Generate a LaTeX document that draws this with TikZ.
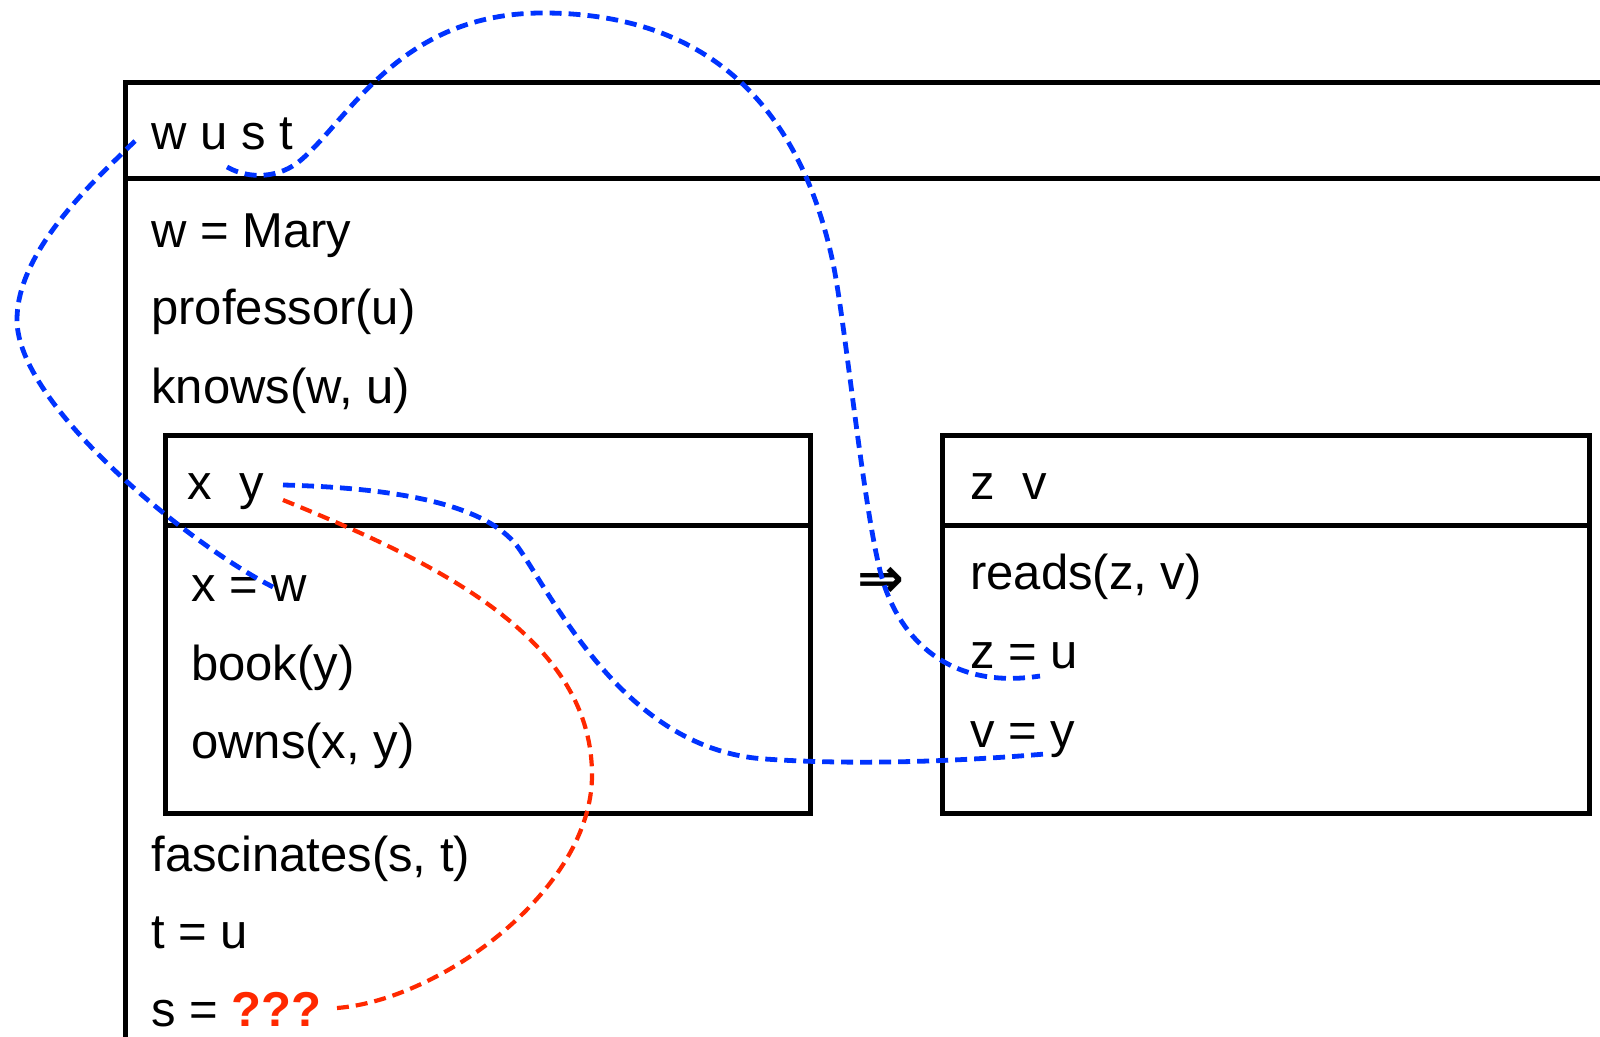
\documentclass[tikz,border=0pt]{standalone}
\usepackage{fontspec}
\setmainfont{Liberation Sans}
\newfontfamily\arrowfont{DejaVu Sans}
\definecolor{linkblue}{RGB}{0,51,255}
\definecolor{linkred}{RGB}{255,40,0}
\begin{document}
\begin{tikzpicture}[x=0.5pt,y=-0.5pt,
  boxline/.style={draw=black,line width=2.5pt},
  lbl/.style={anchor=base west,inner sep=0pt,font=\fontsize{24.5pt}{29pt}\selectfont},
  bluelink/.style={draw=linkblue,line width=2.4pt,dash pattern=on 6pt off 3.5pt},
  redlink/.style={draw=linkred,line width=2.1pt,dash pattern=on 6pt off 3.5pt}]
\useasboundingbox (0,0) rectangle (1600,1037);
\clip (0,0) rectangle (1600,1037);
% outer box (cropped)
\draw[boxline] (125.5,1100) -- (125.5,82.7) -- (1650,82.7);
\draw[boxline] (125.5,178.6) -- (1650,178.6);
% inner boxes
\draw[boxline] (165.3,435.7) rectangle (810.2,813.3);
\draw[boxline] (165.3,525.5) -- (810.2,525.5);
\draw[boxline] (942.9,435.7) rectangle (1589.8,813.3);
\draw[boxline] (942.9,525.5) -- (1589.8,525.5);
% texts
\node[lbl] (hdr) at (151,150) {w u s t};
\node[lbl] (c1) at (151,248) {w = Mary};
\node[lbl] (c2) at (151,325) {professor(u)};
\node[lbl] (c3) at (151,403) {knows(w, u)};
\node[lbl] (lhdr) at (187,499) {x\ \ y};
\node[lbl] (l1) at (190.8,601) {x = w};
\node[lbl] (l2) at (190.8,680) {book(y)};
\node[lbl] (l3) at (190.8,758.6) {owns(x, y)};
\node[lbl] (c4) at (151,871) {fascinates(s, t)};
\node[lbl] (c5) at (151,948) {t = u};
\node[lbl] (c6) at (151,1026) {s = \textcolor{linkred}{\textbf{???}}};
\node[lbl] (rhdr) at (970,499) {z\ \ v};
\node[lbl] (r1) at (970,589) {reads(z, v)};
\node[lbl] (r2) at (970,668) {z = u};
\node[lbl] (r3) at (970,747) {v = y};
\node[inner sep=0pt,font=\arrowfont\bfseries\fontsize{28pt}{32pt}\selectfont] (imp) at (881,582) {⇒};
% link end points
\coordinate (aS) at (135,141);
\coordinate (aM) at (17,320);
\coordinate (aE) at (273,587);
\coordinate (bS) at (227,167);
\coordinate (bE) at (1040,676);
\coordinate (cS) at (283,485);
\coordinate (cE) at (1045,754);
\coordinate (dS) at (283,500);
\coordinate (dE) at (337,1008);
% blue links
\draw[bluelink] (aS) .. controls (95,180) and (17,250) .. (aM)
  .. controls (17,405) and (190,545) .. (aE);
\draw[bluelink] (bS) .. controls (250,180) and (280,178) .. (301,160)
  .. controls (350,118) and (400,13) .. (543,13)
  .. controls (660,13) and (790,60) .. (833,263)
  .. controls (845,320) and (864,515) .. (882,578)
  .. controls (900,640) and (950,690) .. (bE);
\draw[bluelink] (cS) .. controls (400,488) and (490,505) .. (520,550)
  .. controls (560,610) and (630,750) .. (765,759)
  .. controls (850,765) and (950,762) .. (cE);
% red link
\draw[redlink] (dS) .. controls (430,560) and (592,635) .. (592,775)
  .. controls (592,890) and (440,1000) .. (dE);
\end{tikzpicture}
\end{document}
